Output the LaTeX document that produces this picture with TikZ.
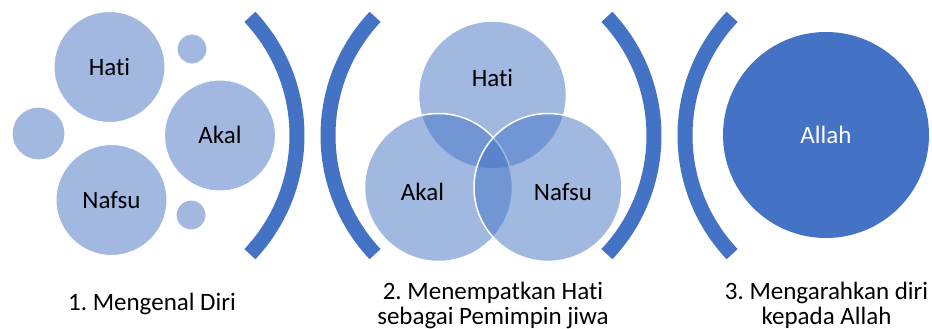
\documentclass[tikz,border=0pt]{standalone}
\usepackage{fontspec}
\setmainfont[Ligatures={NoCommon}]{Carlito}
\definecolor{accent}{HTML}{4472C4}
\frenchspacing
\begin{document}
\begin{tikzpicture}[x=1pt,y=-1pt,
  txt/.style={font=\fontsize{25}{24.8}\selectfont},
  bubble/.style={circle, fill=accent!50, draw=white, line width=1pt, inner sep=0pt,
    txt, text height=16pt, text depth=0pt},
  venn/.style={circle, fill=accent, fill opacity=0.5, draw=white, draw opacity=1,
    line width=1.5pt, inner sep=0pt, minimum size=148pt},
  bracket/.style={draw=accent, line width=15pt, line cap=butt},
  lbl/.style={txt, align=center, anchor=base}]
\useasboundingbox (0,0) rectangle (932,329);

% --- group 1: the self and its parts
\node[bubble, minimum size=111pt] (hati1)  at (109.5,67)  {Hati};
\node[bubble, minimum size=111pt] (akal1)  at (220,135.5) {Akal};
\node[bubble, minimum size=111pt] (nafsu1) at (111.5,200) {Nafsu};
\node[bubble, minimum size=53pt]  (dotL)   at (38.5,133.5) {};
\node[bubble, minimum size=30pt]  (dotT)   at (192,49) {};
\node[bubble, minimum size=30pt]  (dotB)   at (191,215) {};

% --- group 2: overlapping parts
\node[venn] (hati2)  at (492.5,95)   {};
\node[venn] (akal2)  at (438.5,187.5) {};
\node[venn] (nafsu2) at (548,187.5)  {};
\node[txt, anchor=base] (thati2)  at (492.5,86)  {Hati};
\node[txt, anchor=base] (takal2)  at (422.5,200.5) {Akal};
\node[txt, anchor=base] (tnafsu2) at (563,200.5) {Nafsu};

% --- group 3
\node[circle, fill=accent, inner sep=0pt, minimum size=206pt, txt, text=white,
  text height=16pt, text depth=0pt] (allah) at (826,135) {Allah};

% --- bracket arcs between the groups
\draw[bracket] (124,135.5) ++(-43.3:173) arc[start angle=-43.3, end angle=43.3, radius=173];
\draw[bracket] (501,135.5) ++(136.7:173) arc[start angle=136.7, end angle=223.3, radius=173];
\draw[bracket] (481,135.5) ++(-43.3:173) arc[start angle=-43.3, end angle=43.3, radius=173];
\draw[bracket] (858,135.5) ++(136.7:173) arc[start angle=136.7, end angle=223.3, radius=173];

% --- captions (base anchor sits on the last line)
\node[lbl] (cap1) at (152,310) {1. Mengenal Diri};
\node[lbl] (cap2) at (493,324) {2. Menempatkan Hati\\sebagai Pemimpin jiwa};
\node[lbl] (cap3) at (826.5,324) {3. Mengarahkan diri\\kepada Allah};
\end{tikzpicture}
\end{document}
